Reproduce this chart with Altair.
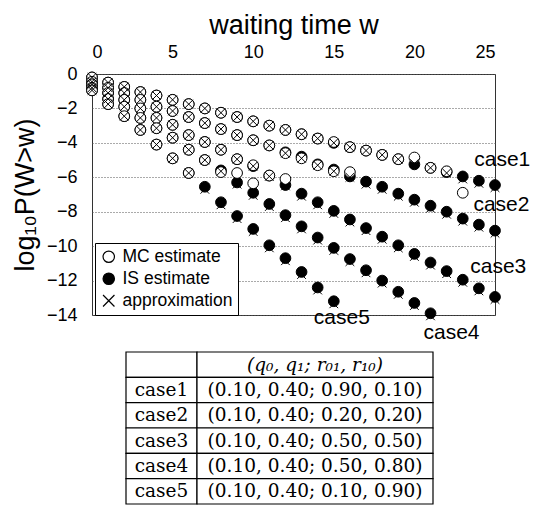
import altair as alt
import pandas as pd

# ---------------- data ----------------
w = list(range(26))

case1_is = [-0.2, -0.5, -0.75, -1.05, -1.25, -1.5, -1.75, -2.0, -2.25, -2.5, -2.75, -3.0, -3.25,
            -3.5, -3.75, -4.0, -4.25, -4.45, -4.7, -4.95, -5.25, -5.45, -5.7, -5.95, -6.2, -6.45]
case1_mc = [-0.2, -0.5, -0.75, -1.05, -1.25, -1.5, -1.75, -2.0, -2.25, -2.5, -2.75, -3.0, -3.25,
            -3.5, -3.75, -3.95, -4.25, -4.45, -4.7, -4.95, -4.85, -5.45, -5.65, -6.9, None, None]
case1_ap = [-0.2, -0.5, -0.75, -1.05, -1.25, -1.5, -1.75, -2.0, -2.25, -2.5, -2.75, -3.0, -3.25,
            -3.5, -3.75, -4.0, -4.25, -4.45, -4.7, -4.95, -5.2, -5.45, -5.75, -6.1, -6.35, -6.6]

case2_is = [-0.45, -0.8, -1.1, -1.5, -1.9, -2.15, -2.5, -2.85, -3.2, -3.55, -3.85, -4.15, -4.55,
            -4.8, -5.25, -5.55, -5.95, -6.25, -6.55, -6.95, -7.3, -7.65, -8.0, -8.4, -8.75, -9.1]
case2_mc = [-0.45, -0.8, -1.1, -1.5, -1.9, -2.15, -2.5, -2.85, -3.2, -3.55, -3.85, -4.15, -4.6,
            -4.9, -5.3, -5.65, -5.7, None, None, None, None, None, None, None, None, None]
case2_ap = [-0.45, -0.8, -1.1, -1.5, -1.9, -2.15, -2.5, -2.85, -3.2, -3.55, -3.85, -4.15, -4.6,
            -4.9, -5.3, -5.65, -6.0, -6.4, -6.7, -7.1, -7.45, -7.8, -8.15, -8.55, -8.9, -9.25]

case3_is = [-0.6, -1.1, -1.5, -2.0, -2.55, -2.95, -3.55, -3.95, -4.4, -4.95, -5.35, -5.9, -6.45,
            -6.95, -7.45, -7.95, -8.45, -8.95, -9.45, -9.95, -10.45, -10.95, -11.45, -11.95, -12.45, -12.95]
case3_mc = [-0.6, -1.1, -1.5, -2.0, -2.55, -2.95, -3.55, -3.95, -4.4, -4.95, -5.3, -5.9, -6.1,
            None, None, None, None, None, None, None, None, None, None, None, None, None]
case3_ap = [-0.6, -1.1, -1.5, -2.0, -2.55, -2.95, -3.55, -3.95, -4.4, -4.95, -5.35, -5.95, -6.5,
            -7.1, -7.6, -8.1, -8.6, -9.1, -9.6, -10.1, -10.6, -11.1, -11.6, -12.1, -12.6, -13.1]

case4_is = [-0.8, -1.45, -1.9, -2.55, -3.15, -3.7, -4.4, -5.0, -5.6, -6.3, -6.9, -7.55, -8.2,
            -8.85, -9.5, -10.1, -10.75, -11.4, -12.0, -12.65, -13.3, -13.9, None, None, None, None]
case4_mc = [-0.8, -1.45, -1.9, -2.55, -3.15, -3.7, -4.4, -5.0, -5.7, -5.75, -6.35,
            None, None, None, None, None, None, None, None, None, None, None, None, None, None, None]
case4_ap = [-0.8, -1.45, -1.9, -2.55, -3.15, -3.7, -4.4, -5.0, -5.65, -6.4, -7.05, -7.7, -8.35,
            -9.0, -9.65, -10.25, -10.9, -11.55, -12.15, -12.8, -13.45, -14.05, None, None, None, None]

case5_is = [-0.95, -1.75, -2.45, -3.25, -4.1, -4.9, -5.75, -6.55, -7.45, -8.25, -9.0, -9.95, -10.7,
            -11.5, -12.4, -13.2, None, None, None, None, None, None, None, None, None, None]
case5_mc = [-0.95, -1.75, -2.45, -3.25, -4.1, -4.9, -5.75,
            None, None, None, None, None, None, None, None, None, None, None, None, None, None, None, None, None, None, None]
case5_ap = [-0.95, -1.75, -2.45, -3.25, -4.1, -4.9, -5.75, -6.7, -7.6, -8.4, -9.15, -10.1, -10.85,
            -11.65, -12.55, -13.35, None, None, None, None, None, None, None, None, None, None]

case_names = ["case1", "case2", "case3", "case4", "case5"]
types = ["MC estimate", "IS estimate", "approximation"]

# case label anchor positions (data coordinates)
label_w = [25.45, 25.4, 25.2, 22.3, 15.5]
label_v = [-5.0, -7.6, -11.2, -15.05, -14.2]

# table parameters
q0 = [0.10, 0.10, 0.10, 0.10, 0.10]
q1 = [0.40, 0.40, 0.40, 0.40, 0.40]
r01 = [0.90, 0.20, 0.50, 0.50, 0.10]
r10 = [0.10, 0.20, 0.50, 0.80, 0.90]

# ---------------- build long table ----------------
series = {
    "case1": (case1_mc, case1_is, case1_ap),
    "case2": (case2_mc, case2_is, case2_ap),
    "case3": (case3_mc, case3_is, case3_ap),
    "case4": (case4_mc, case4_is, case4_ap),
    "case5": (case5_mc, case5_is, case5_ap),
}
rows = []
for cname in case_names:
    for t, vals in zip(types, series[cname]):
        for wi, v in zip(w, vals):
            if v is not None:
                rows.append({"case": cname, "type": t, "w": wi, "v": v})
df = pd.DataFrame(rows)
labels_df = pd.DataFrame({"w": label_w, "v": label_v, "label": case_names})

XPATH = "M-1,-1L1,1M-1,1L1,-1"
SANS = "Liberation Sans"

xenc = alt.X("w:Q",
             scale=alt.Scale(domain=[0, 25], nice=False, zero=False),
             axis=alt.Axis(orient="top", values=[0, 5, 10, 15, 20, 25], title="waiting time w",
                           grid=False, ticks=False, domain=False, labelPadding=13,
                           titlePadding=4, labelFontSize=18, titleFontSize=27,
                           labelFont=SANS, titleFont=SANS, titleFontWeight="normal",
                           labelColor="black", titleColor="black"))
yenc = alt.Y("v:Q",
             scale=alt.Scale(domain=[-14, 0], nice=False, zero=False),
             axis=alt.Axis(values=list(range(-14, 1, 2)), title="log₁₀P(W>w)",
                           grid=True, gridDash=[1, 2], gridColor="#555", gridWidth=1,
                           ticks=False, domain=False, labelPadding=15, titlePadding=7,
                           labelFontSize=18, titleFontSize=27, labelFont=SANS, titleFont=SANS,
                           titleFontWeight="normal", labelColor="black", titleColor="black"))
legend = alt.Legend(title=None, orient="none", legendX=3, legendY=169,
                    strokeColor="black", fillColor="white", padding=5, cornerRadius=0,
                    labelFont=SANS, labelFontSize=17.5, labelColor="black", symbolSize=130,
                    symbolStrokeWidth=1.2, rowPadding=3, labelOffset=5)
shape = alt.Shape("type:N", scale=alt.Scale(domain=types, range=["circle", "circle", XPATH]),
                  legend=legend)
fill = alt.Fill("type:N", scale=alt.Scale(domain=types, range=["white", "black", "transparent"]),
                legend=legend)
stroke = alt.Stroke("type:N", scale=alt.Scale(domain=types, range=["black", "black", "black"]),
                    legend=legend)

base = alt.Chart(df)
def pts(t, size):
    return base.transform_filter(alt.datum.type == t).mark_point(
        filled=True, size=size, strokeWidth=1, opacity=1).encode(
        x=xenc, y=yenc, shape=shape, fill=fill, stroke=stroke)

is_layer = pts("IS estimate", 115)
mc_layer = pts("MC estimate", 115)
ap_layer = pts("approximation", 75)

text_layer = alt.Chart(labels_df).mark_text(
    font=SANS, fontSize=21, align="center", baseline="middle", color="black").encode(
    x=xenc, y=yenc, text="label:N")

top = alt.layer(is_layer, mc_layer, ap_layer, text_layer).properties(
    width=403, height=241, view=alt.ViewBackground(stroke="#333", strokeWidth=1))

# ---------------- table ----------------
SPACER = 34
COL1 = 71
COL2 = 236
trows = ["h"] + case_names
c1_text = [""] + case_names
c2_text = ["(q₀, q₁; r₀₁, r₁₀)"] + [
    "({:.2f}, {:.2f}; {:.2f}, {:.2f})".format(a, b, c, d) for a, b, c, d in zip(q0, q1, r01, r10)]
cells = []
for i, r in enumerate(trows):
    cells.append({"row": i, "x0": 0, "x1": COL1, "xc": COL1 / 2, "text": c1_text[i], "hdr": i == 0})
    cells.append({"row": i, "x0": COL1, "x1": COL1 + COL2, "xc": COL1 + COL2 / 2, "text": c2_text[i], "hdr": i == 0})
tdf = pd.DataFrame(cells)

tx = alt.Scale(domain=[-SPACER, COL1 + COL2], nice=False, zero=False)
ty = alt.Scale(paddingInner=0, paddingOuter=0)
tbase = alt.Chart(tdf)
rects = tbase.mark_rect(fill="white", stroke="black", strokeWidth=1.2).encode(
    x=alt.X("x0:Q", scale=tx, axis=None), x2="x1:Q",
    y=alt.Y("row:O", scale=ty, axis=None))
body_text = tbase.transform_filter("!datum.hdr").mark_text(
    font="DejaVu Serif", fontSize=18.5, color="black").encode(
    x=alt.X("xc:Q", scale=tx, axis=None),
    y=alt.Y("row:O", scale=ty, axis=None),
    text="text:N")
head_text = tbase.transform_filter("datum.hdr").mark_text(
    font="DejaVu Serif", fontSize=18.5, fontStyle="italic", color="black").encode(
    x=alt.X("xc:Q", scale=tx, axis=None),
    y=alt.Y("row:O", scale=ty, axis=None),
    text="text:N")
table = alt.layer(rects, body_text, head_text).properties(
    width=SPACER + COL1 + COL2, height=152, view=alt.ViewBackground(stroke=None))

chart = alt.vconcat(top, table, spacing=37, bounds="flush").properties(
    padding={"left": 2, "top": 2, "right": 5, "bottom": 0}
).configure_view(stroke=None)

chart.save("out.html", embed_options={"renderer": "svg", "actions": False})
